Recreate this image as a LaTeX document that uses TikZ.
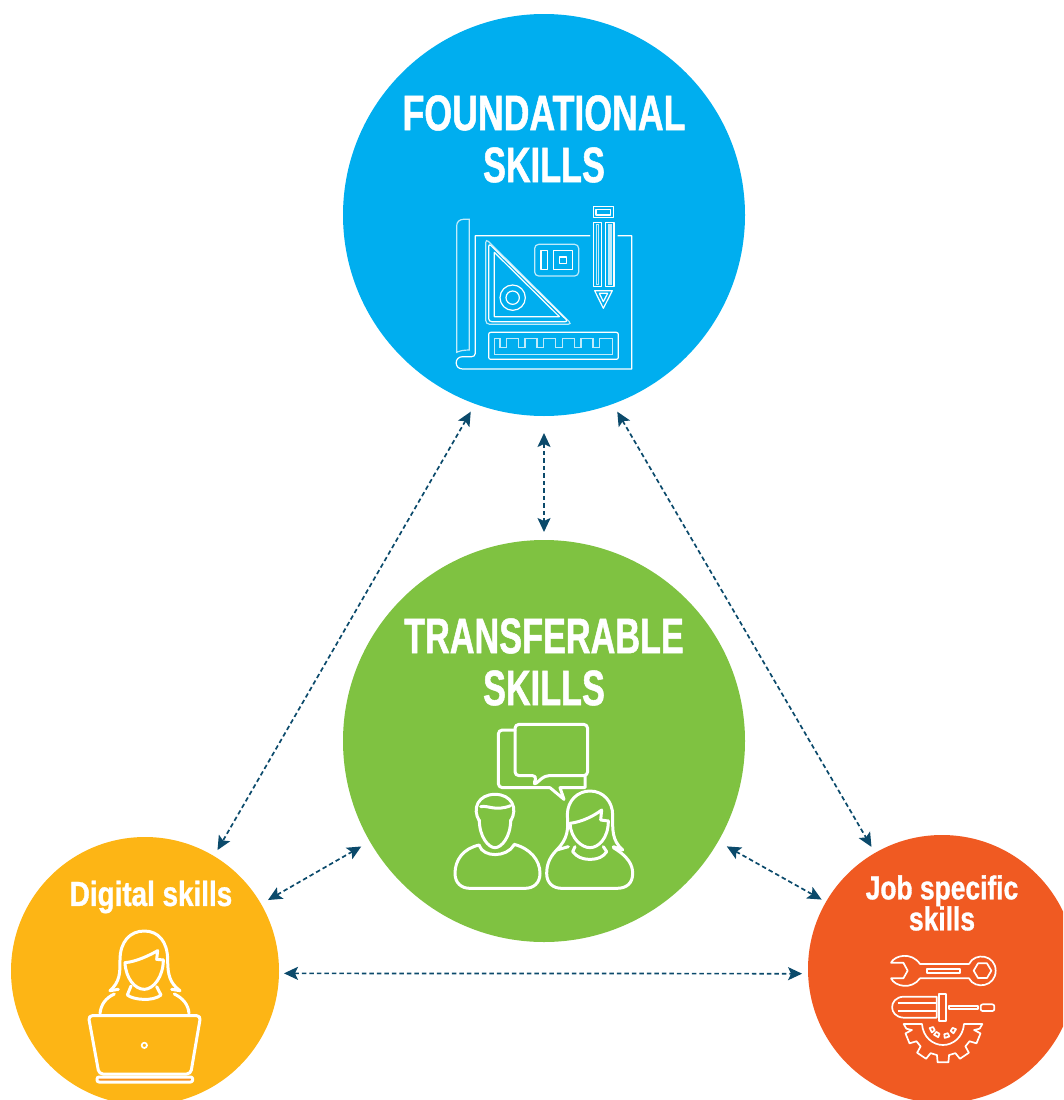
\documentclass[tikz,border=0pt]{standalone}
\usepackage{fontspec}
\setmainfont[FakeStretch=0.685,BoldFeatures={FakeBold=1}]{Liberation Sans}
\newfontfamily\foundfont[FakeStretch=0.714,BoldFeatures={FakeBold=1}]{Liberation Sans}
\newfontfamily\smallfont[FakeStretch=0.8,BoldFeatures={FakeBold=1}]{Liberation Sans}
\usepackage{tikz}
\usepackage{xcolor}
\usetikzlibrary{positioning,arrows.meta,shapes}
\definecolor{foundblue}{HTML}{00AEEF}
\definecolor{transgreen}{HTML}{7FC241}
\definecolor{digitalyellow}{HTML}{FDB515}
\definecolor{joborange}{HTML}{F05A22}
\definecolor{linknavy}{HTML}{0B4A6B}
\tikzset{
  skillcircle/.style={circle, inner sep=0pt, outer sep=0pt},
  bigskill/.style={text=white, align=center, font=\fontsize{50}{52}\selectfont\bfseries},
  smallskill/.style={text=white, align=center, font=\smallfont\fontsize{33}{31}\selectfont\bfseries},
  link/.style={{Stealth[length=14pt,width=13pt,inset=3pt]}-{Stealth[length=14pt,width=13pt,inset=3pt]}, linknavy, line width=1.7pt, dash pattern=on 4.5pt off 3pt},
  thinicon/.style={draw=white, line width=1.2pt, fill=none, line join=round},
  softicon/.style={draw=white!75!foundblue, line width=1.2pt, fill=none},
  thickicon/.style={draw=white, line width=3pt, fill=none, line join=round, line cap=round},
  midicon/.style={draw=white, line width=1.7pt, fill=none, line join=round}
}
\begin{document}
\begin{tikzpicture}[x=1pt,y=-1pt]
    \clip (0,0) rectangle (1063,1100);

    % Circles
    \node[skillcircle, fill=foundblue, minimum size=402pt] (found) at (544,215) {};
    \node[skillcircle, fill=transgreen, minimum size=402pt] (trans) at (544,741) {};
    \node[skillcircle, fill=digitalyellow, minimum size=268pt] (digital) at (145,971) {};
    \node[skillcircle, fill=joborange, minimum size=268pt] (job) at (942,969) {};

    % Titles
    \node[bigskill] (foundtext) at (544,139) {{\foundfont FOUNDATIONAL}\\SKILLS};
    \node[bigskill] (transtext) at (544,662) {TRANSFERABLE\\SKILLS};
    \node[smallskill, font=\smallfont\fontsize{34.8}{31}\selectfont\bfseries] (digitaltext) at (151,897) {Digital skills};
    \node[smallskill] (jobtext) at (942,903) {Job specific\\skills};

    % Arrows
    \draw[link, shorten <=9pt, shorten >=7pt] (found.250) -- (digital.59);
    \draw[link, shorten <=9pt, shorten >=7pt] (found.290) -- (job.120);
    \draw[link, shorten <=17pt, shorten >=8pt] (found.south) -- (trans.north);
    \draw[link, shorten <=8pt, shorten >=10pt] (digital.30) -- (trans.210);
    \draw[link, shorten <=10pt, shorten >=5pt] (trans.330) -- (job.150);
    \draw[link, shorten <=5pt, shorten >=6pt] (digital.-1.5) -- (job.182);

    % Blueprint icon
    \begin{scope}[shift={(440,195)},scale=1/3]
        \draw[thinicon] (450,122) -- (106,122) -- (106,475) .. controls (106,482) and (100,485) .. (95,485) -- (68,485)
            .. controls (42,485) and (42,522) .. (68,522) -- (575,522) -- (575,122) -- (533,122);
        \draw[softicon] (50,472) -- (50,92) .. controls (50,80) and (60,73) .. (70,73) -- (88,73) -- (88,465) .. controls (70,465) and (58,468) .. (50,472) -- cycle;
        \draw[softicon, rounded corners=4pt] (137,131) -- (137,388) -- (396,388) -- cycle;
        \draw[thinicon, rounded corners=3pt] (146,145) -- (146,380) -- (385,380) -- cycle;
        \draw[thinicon] (163,172) -- (163,365) -- (358,365) -- cycle;
        \draw[thinicon] (218,308) circle [radius=38];
        \draw[thinicon] (218,308) circle [radius=20];
        \draw[softicon, rounded corners=4pt] (284,148) rectangle (416,243);
        \draw[thinicon] (303,167) rectangle (322,224);
        \draw[thinicon] (340,167) rectangle (398,224);
        \draw[thinicon] (358,186) rectangle (380,206);
        \draw[thinicon, rounded corners=2pt] (146,412) rectangle (535,493);
        \draw[softicon] (163,430) \foreach \x in {180,235,291,347,403,459} {
            -- (\x,430) -- (\x,458) -- (\x+20,458) -- (\x+20,430)} -- (518,430) -- (518,478) -- (163,478) -- cycle;
        \draw[thinicon] (460,35) rectangle (520,67);
        \draw[thinicon] (468,43) rectangle (512,60);
        \draw[thinicon] (460,82) rectangle (485,274);
        \draw[thinicon] (497,82) rectangle (522,274);
        \draw[softicon] (470,88) rectangle (476,268);
        \draw[softicon] (507,88) rectangle (513,268);
        \draw[thinicon] (464,287) -- (517,287) -- (490,340) -- cycle;
        \draw[thinicon] (478,295) -- (503,295) -- (490,320) -- cycle;
    \end{scope}

    % People icon
    \begin{scope}[shift={(440,715)},scale=1/3]
        \draw[thickicon, rounded corners=4pt] (225,182) -- (225,28) -- (443,28) -- (443,182) -- (315,182) -- (280,212) -- (290,182) -- cycle;
        \draw[thickicon, rounded corners=4pt] (225,45) -- (175,45) -- (175,218) -- (330,218);
        \draw[thickicon] (330,218) -- (372,253) -- (360,218) -- (435,218) -- (435,182);
        % man
        \draw[thickicon] (118,318) .. controls (95,280) and (115,238) .. (165,238) .. controls (215,238) and (235,280) .. (212,318);
        \draw[thickicon] (118,315) .. controls (118,365) and (145,398) .. (165,398) .. controls (185,398) and (212,365) .. (212,315);
        \draw[thickicon] (122,275) .. controls (145,270) and (165,290) .. (212,272);
        \draw[thickicon] (118,390) .. controls (70,400) and (45,435) .. (45,475) .. controls (45,505) and (65,520) .. (90,520)
            -- (255,520) .. controls (280,520) and (300,505) .. (300,475) .. controls (300,435) and (270,400) .. (222,388);
        \draw[thickicon] (118,392) .. controls (130,428) and (200,428) .. (222,390);
        % woman
        \draw[thickicon] (350,405) .. controls (385,370) and (385,340) .. (382,300) .. controls (382,255) and (415,228) .. (450,228)
            .. controls (490,228) and (518,260) .. (518,300) .. controls (518,345) and (515,375) .. (548,405) -- (520,395);
        \draw[thickicon] (390,325) .. controls (392,370) and (425,398) .. (450,398) .. controls (475,398) and (505,370) .. (505,318);
        \draw[thickicon] (390,325) .. controls (430,320) and (465,300) .. (485,285) -- (482,315) -- (505,318);
        \draw[thickicon] (405,395) -- (398,410) .. controls (410,425) and (425,433) .. (450,433) .. controls (475,433) and (490,425) .. (500,410) -- (490,395);
        \draw[thickicon] (385,395) -- (350,405) .. controls (325,430) and (320,455) .. (320,475) .. controls (320,505) and (340,520) .. (365,520)
            -- (530,520) .. controls (560,520) and (578,505) .. (578,475) .. controls (578,450) and (565,425) .. (520,398);
    \end{scope}

    % Laptop icon
    \begin{scope}[shift={(75,920)},scale=1/3]
        \draw[thickicon] (105,212) .. controls (135,185) and (135,160) .. (135,120) .. controls (135,65) and (165,33) .. (208,33)
            .. controls (250,33) and (278,65) .. (278,120) .. controls (278,165) and (285,190) .. (315,212) -- (290,208);
        \draw[thickicon] (150,128) .. controls (152,175) and (180,208) .. (208,208) .. controls (235,208) and (265,170) .. (265,120);
        \draw[thickicon] (150,128) .. controls (185,125) and (225,105) .. (248,92) -- (245,118) -- (265,120);
        \draw[thickicon] (168,198) -- (157,225) .. controls (175,240) and (235,245) .. (258,225) -- (245,200);
        \draw[thickicon] (130,208) -- (105,212);
        \draw[thickicon] (118,222) .. controls (90,235) and (78,255) .. (75,280);
        \draw[thickicon] (298,222) .. controls (325,235) and (340,255) .. (342,280);
        \draw[thickicon, rounded corners=4pt] (40,287) -- (377,287) -- (347,462) -- (72,462) -- cycle;
        \draw[thickicon, fill=digitalyellow!60!joborange, rounded corners=2pt] (66,471) rectangle (353,486);
        \draw[midicon] (208,376) circle [radius=8];
    \end{scope}

    % Tools icon
    \begin{scope}[shift={(875,945)},scale=1/3]
        \draw[midicon] (48,53) .. controls (60,30) and (110,20) .. (135,57) -- (282,57) .. controls (300,20) and (362,30) .. (362,77)
            .. controls (362,125) and (300,135) .. (282,100) -- (135,100) .. controls (110,135) and (60,125) .. (48,100) -- (85,100) -- (98,77) -- (85,53) -- cycle;
        \draw[midicon] (155,71) rectangle (255,85);
        \draw[midicon] (296,77) -- (309,55) -- (336,55) -- (349,77) -- (336,99) -- (309,99) -- cycle;
        % screwdriver
        \draw[midicon] (185,155) -- (85,155) .. controls (40,158) and (40,215) .. (85,218) -- (185,218) -- cycle;
        \draw[midicon] (68,175) -- (182,175);
        \draw[midicon] (68,198) -- (182,198);
        \draw[midicon] (191,148) rectangle (212,228);
        \draw[midicon] (221,182) rectangle (308,192);
        \draw[midicon, rounded corners=2pt] (317,178) rectangle (358,198);
        % gear
        \begin{scope}[shift={(204,237)}]
            \draw[midicon] (-63,0) .. controls (-60,40) and (-30,63) .. (0,63) .. controls (30,63) and (60,40) .. (63,0)
                -- (118,0) -- (110,14)
                \foreach \a in {22,56,90,124,158} {
                    -- (\a-11:95) -- (\a-8:116) -- (\a+8:116) -- (\a+11:95)}
                -- (-110,14) -- (-118,0) -- cycle;
            \foreach \a in {32,73,120,153} {
                \draw[midicon] (\a-10:31) -- (\a+10:31) -- (\a+10:42) -- (\a-10:42) -- cycle;
            }
        \end{scope}
    \end{scope}
\end{tikzpicture}
\end{document}
